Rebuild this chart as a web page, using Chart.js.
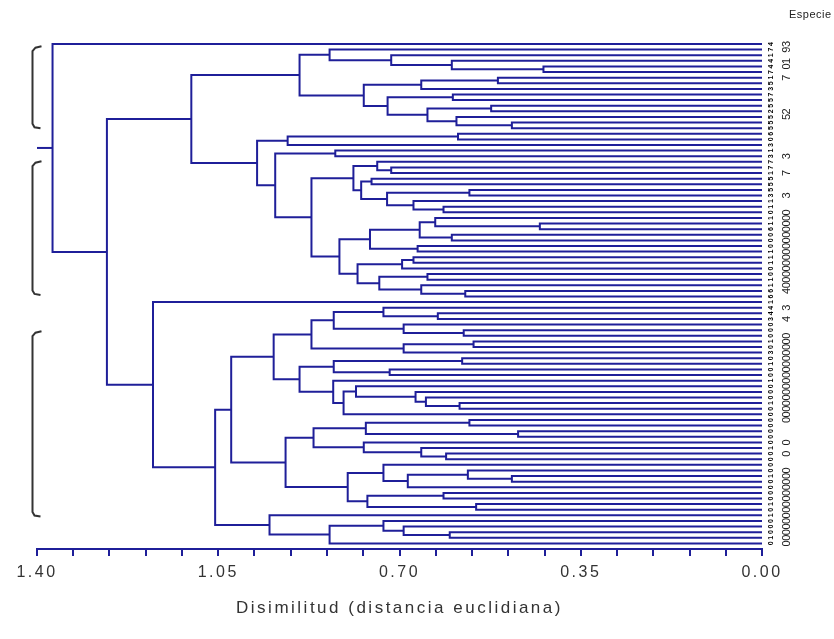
<!DOCTYPE html>
<html>
<head>
<meta charset="utf-8">
<title>Dendrograma</title>
<script src="https://cdn.jsdelivr.net/npm/chart.js@4.4.1/dist/chart.umd.min.js"></script>
<style>
  html, body { margin: 0; padding: 0; background: #fff; }
  #wrap { width: 834px; height: 639px; }
</style>
</head>
<body>
<div id="wrap"><canvas id="dendro" width="834" height="639"></canvas></div>
<script>
// rows of the dendrogram, top -> bottom
const leafCount = 90;

// linkage: [first leaf, first leaf of lower branch, last leaf, dissimilarity]
const linkage = [
    [0, 1, 89, 1.370], [1, 46, 89, 1.265], [1, 16, 45, 1.102],
    [1, 6, 15, 0.893], [1, 2, 5, 0.835], [2, 3, 5, 0.716], [3, 4, 5, 0.599], [4, 5, 5, 0.422],
    [6, 9, 15, 0.769], [6, 8, 8, 0.658], [6, 7, 7, 0.510], [9, 11, 15, 0.723], [9, 10, 10, 0.597],
    [11, 13, 15, 0.646], [11, 12, 12, 0.523], [13, 14, 15, 0.590], [14, 15, 15, 0.483],
    [16, 19, 45, 0.975], [16, 18, 18, 0.916], [16, 17, 17, 0.587],
    [19, 21, 45, 0.940], [19, 20, 20, 0.824],
    [21, 31, 45, 0.870], [21, 24, 30, 0.789], [21, 22, 23, 0.743], [22, 23, 23, 0.716],
    [24, 26, 30, 0.774], [24, 25, 25, 0.754], [26, 28, 30, 0.724], [26, 27, 27, 0.565],
    [28, 29, 30, 0.673], [29, 30, 30, 0.615],
    [31, 38, 45, 0.816], [31, 36, 37, 0.757], [31, 34, 35, 0.661], [31, 32, 33, 0.631],
    [32, 33, 33, 0.429], [34, 35, 35, 0.599], [36, 37, 37, 0.665],
    [38, 41, 45, 0.781], [38, 40, 40, 0.695], [38, 39, 39, 0.673], [41, 43, 45, 0.739],
    [41, 42, 42, 0.646], [43, 44, 45, 0.658], [44, 45, 45, 0.573],
    [46, 47, 89, 1.176], [47, 84, 89, 1.056], [47, 67, 83, 1.025],
    [47, 56, 66, 0.943], [47, 53, 55, 0.870], [47, 50, 52, 0.827], [47, 48, 49, 0.731],
    [48, 49, 49, 0.626], [50, 51, 52, 0.692], [51, 52, 52, 0.576], [53, 55, 55, 0.692],
    [53, 54, 54, 0.557],
    [56, 60, 66, 0.893], [56, 58, 59, 0.827], [56, 57, 57, 0.579], [58, 59, 59, 0.719],
    [60, 61, 66, 0.828], [61, 66, 66, 0.808], [61, 62, 65, 0.784], [62, 63, 65, 0.669],
    [63, 64, 65, 0.649], [64, 65, 65, 0.584],
    [67, 75, 83, 0.920], [67, 71, 74, 0.866], [67, 69, 70, 0.765], [67, 68, 68, 0.565],
    [69, 70, 70, 0.471], [71, 72, 74, 0.769], [72, 73, 74, 0.658], [73, 74, 74, 0.610],
    [75, 80, 83, 0.800], [75, 76, 79, 0.731], [76, 79, 79, 0.684], [76, 77, 78, 0.568],
    [77, 78, 78, 0.483], [80, 82, 83, 0.762], [80, 81, 81, 0.615], [82, 83, 83, 0.552],
    [84, 85, 89, 0.951], [85, 89, 89, 0.835], [85, 86, 88, 0.731], [86, 87, 88, 0.692],
    [87, 88, 88, 0.603]
];

const xTicks = [0, 0.07, 0.14, 0.21, 0.28, 0.35, 0.42, 0.49, 0.56, 0.63, 0.70,
    0.77, 0.84, 0.91, 0.98, 1.05, 1.12, 1.19, 1.26, 1.33, 1.40];
const xTickLabels = ['1.40', '1.05', '0.70', '0.35', '0.00'];
const xTitle = 'Disimilitud (distancia euclidiana)';
const headerText = 'Especie';

// the three groups marked on the left (in rows)
const groupBrackets = [[1.1, 14.4], [21.6, 44.1], [51.9, 83.6]];

// species codes printed at the end of each row (tiny, rotated)
const especieSmall = [
    '4', '7', '1', '4', '4', '7', '1', '5', '3', '7',
    '5', '5', '2', '5', '5', '5', '6', '0', '3', '1',
    '3', '7', '7', '1', '5', '5', '5', '3', '1', '1',
    '0', '1', '1', '6', '0', '0', '0', '1', '1', '1',
    '0', '0', '1', '1', '6', '6', '1', '4', '4', '3',
    '0', '0', '0', '1', '0', '3', '0', '1', '0', '0',
    '1', '0', '0', '0', '1', '0', '0', '0', '0', '0',
    '0', '0', '1', '0', '0', '0', '0', '1', '0', '0',
    '0', '0', '1', '0', '1', '0', '0', '0', '1', '0'
];
const especieLarge = [
    '3', '9', '', '1', '0', '', '7', '', '', '',
    '', '', '2', '5', '', '', '', '', '', '',
    '3', '', '', '7', '', '', '', '3', '', '',
    '0', '0', '0', '0', '0', '0', '0', '0', '0', '0',
    '0', '0', '0', '0', '4', '', '', '3', '', '4',
    '', '', '0', '0', '0', '0', '0', '0', '0', '0',
    '0', '0', '0', '0', '0', '0', '0', '0', '', '',
    '', '0', '', '0', '', '', '0', '0', '0', '0',
    '0', '0', '0', '0', '0', '0', '0', '0', '0', '0'
];

const NAVY = '#1f1f99';
const FONT = "'Liberation Sans', Arial, sans-serif";

function buildSegments() {
    const nodes = {};
    const info = (a, b) => (a === b) ? { h: 0, y: a } : nodes[a + '-' + b];
    const order = linkage.slice().sort((p, q) => (p[2] - p[0]) - (q[2] - q[0]));
    const sets = [];
    let root = null;
    order.forEach(([first, split, last, h]) => {
        const up = info(first, split - 1);
        const lo = info(split, last);
        const node = { h, y: (up.y + lo.y) / 2 };
        nodes[first + '-' + last] = node;
        if (first === 0 && last === leafCount - 1) root = node;
        sets.push([
            { x: up.h, y: up.y }, { x: h, y: up.y },
            { x: h, y: lo.y }, { x: lo.h, y: lo.y }
        ]);
    });
    // stub to the left of the root
    sets.push([{ x: root.h, y: root.y }, { x: xTicks[xTicks.length - 1], y: root.y }]);
    return sets.map(data => ({
        data, showLine: true, borderColor: NAVY, borderWidth: 2,
        pointRadius: 0, tension: 0, clip: false, fill: false
    }));
}

const spacingPlugin = {
    id: 'spacing',
    beforeDraw(chart) { chart.ctx.letterSpacing = '2.5px'; },
    afterDraw(chart) { chart.ctx.letterSpacing = '0px'; }
};

const labelsPlugin = {
    id: 'especieLabels',
    afterDraw(chart) {
        const { ctx, chartArea, scales: { y } } = chart;
        ctx.save();
        ctx.letterSpacing = '0px';
        // brackets
        ctx.strokeStyle = '#333';
        ctx.lineWidth = 2;
        const bx = chartArea.left - 4.5;
        groupBrackets.forEach(([a, b]) => {
            const y0 = y.getPixelForValue(a), y1 = y.getPixelForValue(b);
            ctx.beginPath();
            ctx.moveTo(bx + 9, y0 - 4);
            ctx.lineTo(bx + 3, y0 - 2.5);
            ctx.lineTo(bx, y0 + 1);
            ctx.lineTo(bx, y1 - 1);
            ctx.lineTo(bx + 2, y1 + 2.5);
            ctx.lineTo(bx + 8, y1 + 3.5);
            ctx.stroke();
        });
        // header
        ctx.fillStyle = '#222';
        ctx.font = '11px ' + FONT;
        ctx.letterSpacing = '0.5px';
        ctx.textAlign = 'left';
        ctx.textBaseline = 'alphabetic';
        ctx.fillText(headerText, 789, 18);
        ctx.letterSpacing = '0px';
        // row labels
        ctx.textAlign = 'center';
        ctx.textBaseline = 'middle';
        for (let i = 0; i < leafCount; i++) {
            const py = y.getPixelForValue(i);
            ctx.save();
            ctx.translate(771, py);
            ctx.rotate(-Math.PI / 2);
            ctx.font = 'bold 7px ' + FONT;
            ctx.fillStyle = '#000';
            ctx.fillText(especieSmall[i], 0, 0);
            ctx.restore();
            if (especieLarge[i]) {
                ctx.save();
                ctx.translate(787, py);
                ctx.rotate(-Math.PI / 2);
                ctx.font = '11px ' + FONT;
                ctx.fillStyle = '#222';
                ctx.fillText(especieLarge[i], 0, 0);
                ctx.restore();
            }
        }
        ctx.restore();
    }
};

new Chart(document.getElementById('dendro'), {
    type: 'scatter',
    data: { datasets: buildSegments() },
    options: {
        responsive: false,
        animation: false,
        layout: { padding: { left: 37, right: 72, top: 44, bottom: 0 } },
        plugins: { legend: { display: false }, tooltip: { enabled: false } },
        scales: {
            x: {
                type: 'linear',
                min: 0, max: 1.4,
                reverse: true,
                afterBuildTicks: s => { s.ticks = xTicks.map(v => ({ value: v })); },
                afterFit: s => { s.height = 90; },
                grid: { drawOnChartArea: false, drawTicks: true, tickLength: 7, color: NAVY, lineWidth: 2 },
                border: { display: true, color: NAVY, width: 2 },
                ticks: {
                    autoSkip: false, maxRotation: 0, padding: 7,
                    color: '#333', font: { family: FONT, size: 16 },
                    callback: v => xTickLabels.find(l => Math.abs(parseFloat(l) - v) < 1e-6) || ''
                },
                title: {
                    display: true, text: xTitle, color: '#333',
                    font: { family: FONT, size: 17 }, padding: { top: 0, bottom: 20 }
                }
            },
            y: { type: 'linear', display: false, min: 0, max: leafCount, reverse: true }
        }
    },
    plugins: [spacingPlugin, labelsPlugin]
});
</script>
</body>
</html>
